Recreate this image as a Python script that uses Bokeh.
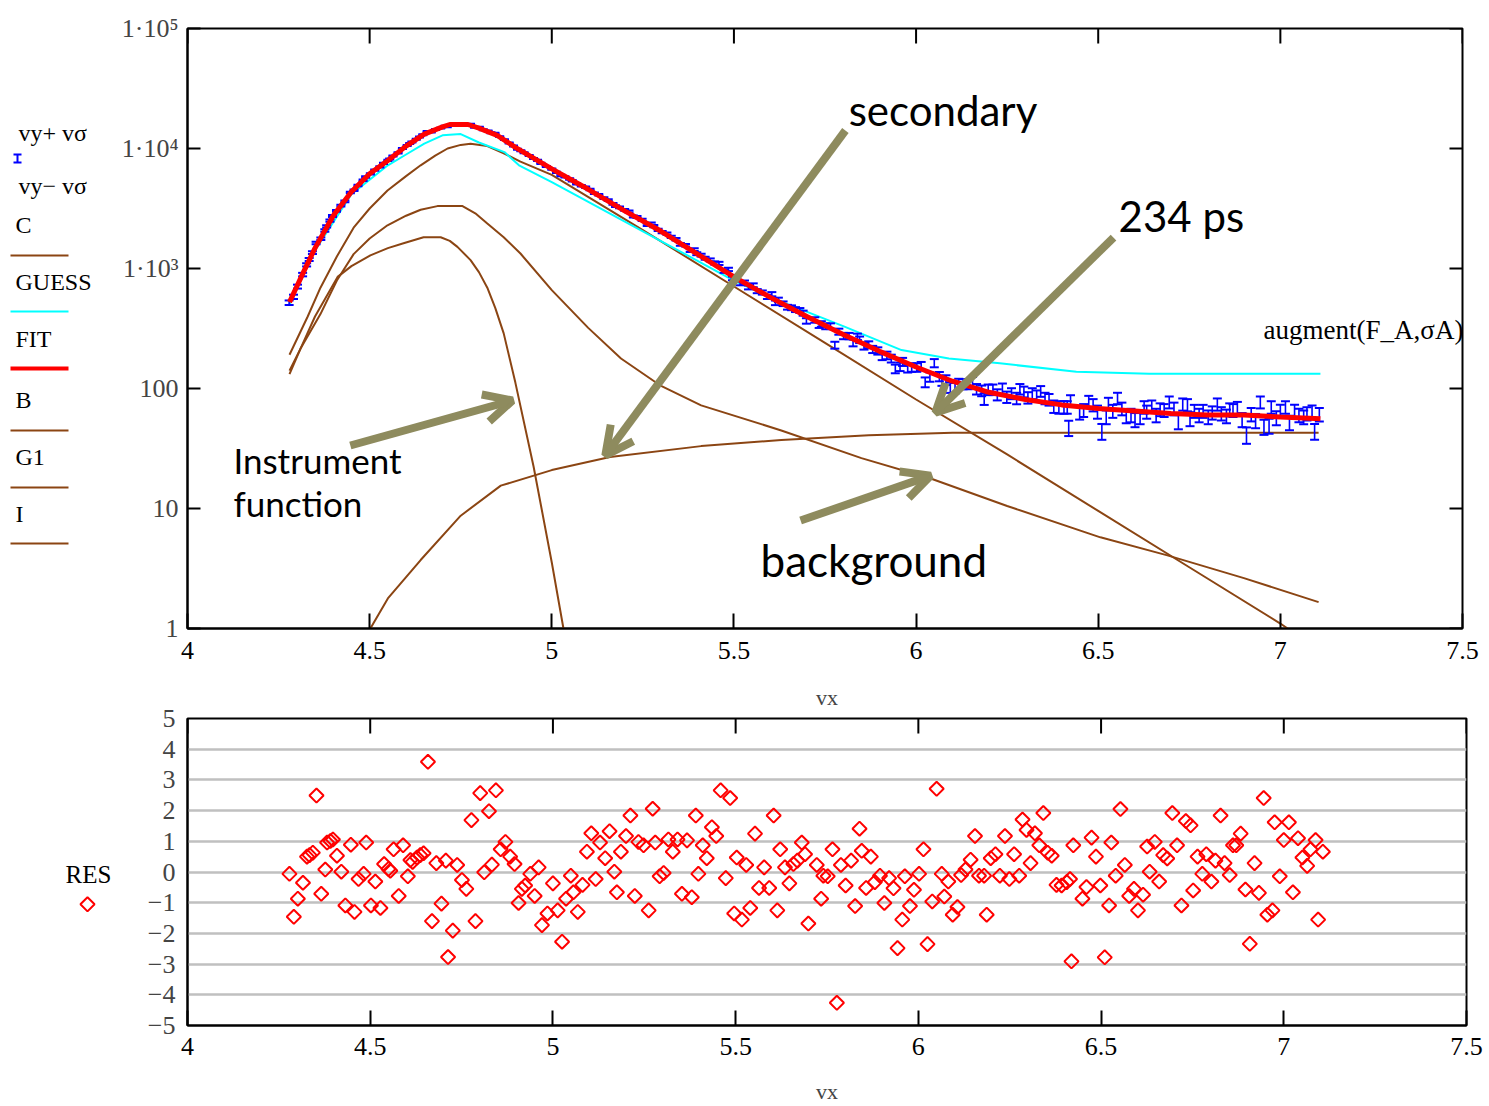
import numpy as np
from bokeh.plotting import figure
from bokeh.layouts import column, row
from bokeh.models import Range1d, FixedTicker, Label, Arrow, OpenHead, LinearAxis
from bokeh.core.properties import value
from bokeh.embed import file_html
from bokeh.resources import INLINE

SERIF = "Liberation Serif"
SANS = "Lato"
BROWN = "#8B4513"
OLIVE = "#8E8B5E"

# ---------------- data: measured channels (x, counts, residual) ----------------
x_ch = [
    4.279, 4.291, 4.302, 4.316, 4.327, 4.334, 4.343, 4.353,
    4.366, 4.377, 4.382, 4.391, 4.398, 4.409, 4.421, 4.432,
    4.447, 4.457, 4.468, 4.482, 4.489, 4.502, 4.514, 4.528,
    4.538, 4.550, 4.555, 4.564, 4.578, 4.590, 4.603, 4.610,
    4.616, 4.628, 4.637, 4.646, 4.658, 4.669, 4.681, 4.695,
    4.707, 4.713, 4.726, 4.738, 4.751, 4.763, 4.777, 4.788,
    4.801, 4.812, 4.825, 4.833, 4.844, 4.857, 4.870, 4.883,
    4.895, 4.906, 4.915, 4.924, 4.938, 4.950, 4.961, 4.970,
    4.985, 5.000, 5.013, 5.025, 5.036, 5.049, 5.056, 5.068,
    5.081, 5.093, 5.105, 5.117, 5.129, 5.143, 5.155, 5.168,
    5.175, 5.186, 5.200, 5.212, 5.224, 5.234, 5.248, 5.262,
    5.273, 5.280, 5.292, 5.303, 5.316, 5.328, 5.341, 5.353,
    5.367, 5.380, 5.391, 5.398, 5.410, 5.421, 5.435, 5.447,
    5.459, 5.473, 5.485, 5.496, 5.503, 5.517, 5.529, 5.540,
    5.553, 5.564, 5.578, 5.592, 5.604, 5.614, 5.622, 5.635,
    5.647, 5.658, 5.669, 5.681, 5.690, 5.699,
    5.722, 5.734, 5.740, 5.752, 5.765, 5.777, 5.788, 5.801,
    5.816, 5.827, 5.839, 5.845, 5.857, 5.870, 5.881, 5.895,
    5.907, 5.920, 5.932, 5.943, 5.956, 5.963, 5.977, 5.988,
    6.002, 6.014, 6.025, 6.038, 6.050, 6.064, 6.071, 6.082,
    6.094, 6.107, 6.117, 6.129, 6.143, 6.155, 6.166, 6.180,
    6.187, 6.198, 6.211, 6.223, 6.237, 6.249, 6.262, 6.276,
    6.285, 6.296, 6.307, 6.319, 6.331, 6.342, 6.354, 6.365,
    6.378, 6.392, 6.406, 6.415, 6.419, 6.424,
    6.449, 6.460, 6.474, 6.486, 6.498, 6.510, 6.522, 6.528,
    6.540, 6.553, 6.565, 6.577, 6.590, 6.601, 6.615, 6.626,
    6.633, 6.647, 6.659, 6.670, 6.681, 6.695, 6.708, 6.720,
    6.732, 6.745, 6.752, 6.764, 6.777, 6.788, 6.802, 6.813,
    6.827, 6.838, 6.852, 6.861, 6.870, 6.882, 6.895, 6.907,
    6.920, 6.932, 6.945, 6.955, 6.969, 6.975, 6.989, 7.000,
    7.014, 7.025, 7.039, 7.051, 7.064, 7.073, 7.087, 7.094,
    7.107,
]

vy = [
    519, 581, 707, 890, 1073, 1189, 1357, 1632,
    1773, 2074, 2248, 2505, 2745, 3021, 3343, 3632,
    4304, 4493, 4927, 5441, 5788, 6137, 6597, 7013,
    7504, 7952, 8170, 8659, 9193, 9995, 10603, 11006,
    11307, 11963, 12478, 13011, 13906, 13711, 14390, 14802,
    15357, 15179, 15609, 15878, 15816, 15780, 15988, 15008,
    15069, 14321, 14037, 13518, 13395, 12557, 11855, 11119,
    10498, 9876, 9562, 9226, 8744, 8247, 7956, 7505,
    7080, 6731, 6327, 5960, 5808, 5576, 5384, 5082,
    4891, 4744, 4561, 4241, 4116, 3856, 3719, 3452,
    3312, 3236, 3084, 2983, 2707, 2693, 2544, 2310,
    2368, 2253, 2102, 2013, 1951, 1835, 1750, 1589,
    1564, 1408, 1439, 1328, 1293, 1218, 1179, 1112,
    1103, 951, 983, 827, 855, 752, 766, 696,
    725, 648, 631, 581, 611, 518, 548, 509,
    476, 471, 455, 447, 425, 366,
    373, 338, 345, 330, 331, 230, 298, 274,
    274, 240, 270, 255, 226, 232, 212, 206,
    186, 189, 178, 146, 152, 167, 148, 150,
    150, 154, 113, 125, 163, 126, 116, 118,
    102, 101, 110, 109, 109, 114, 99, 96,
    82, 98, 98, 89, 100, 85, 91, 83,
    99, 94, 84, 91, 87, 95, 83, 81,
    71, 70, 70, 70, 47, 79,
    63, 66, 78, 73, 64, 44, 58, 75,
    65, 83, 68, 59, 60, 55, 58, 70,
    64, 71, 60, 67, 66, 77, 68, 53,
    74, 73, 56, 65, 60, 65, 58, 63,
    74, 62, 59, 67, 66, 69, 55, 41,
    61, 54, 77, 48, 49, 70, 57, 65,
    70, 52, 65, 60, 58, 62, 64, 44,
    61,
]

res = [
    -0.06, -1.46, -0.87, -0.35, 0.50, 0.55, 0.63, 2.49,
    -0.71, 0.08, 0.96, 1.01, 1.06, 0.53, 0.01, -1.09,
    0.89, -1.30, -0.23, -0.06, 0.96, -1.09, -0.31, -1.17,
    0.26, 0.10, 0.04, 0.74, -0.78, 0.87, -0.14, 0.39,
    0.33, 0.47, 0.55, 0.61, 3.59, -1.60, 0.29, -1.03,
    0.37, -2.77, -1.91, 0.23, -0.26, -0.55, 1.69, -1.60,
    2.57, -0.01, 1.98, 0.24, 2.66, 0.74, 0.98, 0.50,
    0.26, -1.01, -0.55, -0.44, -0.06, -0.78, 0.15, -1.73,
    -1.35, -0.37, -1.25, -2.27, -0.87, -0.12, -0.66, -1.30,
    -0.42, 0.66, 1.26, -0.23, 0.96, 0.45, 1.33, 0.01,
    -0.66, 0.66, 1.17, 1.84, -0.78, 0.98, 0.87, -1.25,
    2.06, 0.96, -0.14, -0.03, 1.06, 0.66, 1.06, -0.71,
    1.03, -0.82, 1.84, -0.06, 0.87, 0.45, 1.46, 1.17,
    2.66, -0.20, 2.41, -1.35, 0.47, -1.55, 0.23, -1.17,
    1.25, -0.52, 0.15, -0.52, 1.84, -1.25, 0.74, 0.15,
    -0.37, 0.26, 0.37, 0.96, 0.58, -1.68,
    0.23, -0.87, -0.12, -0.14, 0.74, -4.26, 0.23, -0.44,
    0.37, -1.11, 1.41, 0.69, -0.52, 0.50, -0.33, -0.12,
    -1.01, -0.20, -0.53, -2.48, -1.55, -0.14, -1.11, -0.58,
    -0.06, 0.74, -2.35, -0.96, 2.71, -0.06, -0.80, -0.31,
    -1.39, -1.14, -0.10, 0.08, 0.40, 1.17, -0.12, -0.12,
    -1.39, 0.45, 0.58, -0.12, 1.17, -0.23, 0.58, -0.12,
    1.71, 1.37, 0.29, 1.26, 0.87, 1.92, 0.63, 0.53,
    -0.42, -0.44, -0.33, -0.23, -2.91, 0.87,
    -0.87, -0.49, 1.12, 0.50, -0.44, -2.78, -1.09, 0.96,
    -0.12, 2.05, 0.23, -0.78, -0.55, -1.25, -0.74, 0.83,
    0.01, 0.98, -0.31, 0.55, 0.44, 1.92, 0.87, -1.09,
    1.66, 1.52, -0.60, 0.50, -0.06, 0.58, -0.31, 0.37,
    1.84, 0.29, -0.10, 0.87, 0.87, 1.25, -0.57, -2.34,
    0.29, -0.68, 2.41, -1.39, -1.25, 1.62, -0.14, 1.04,
    1.62, -0.66, 1.10, 0.47, 0.20, 0.74, 1.04, -1.55,
    0.66,
]

# ---------------- curves ----------------
fit_x = [4.28, 4.30, 4.32, 4.35, 4.40, 4.45, 4.50, 4.55, 4.60, 4.65,
         4.70, 4.72, 4.77, 4.80, 4.85, 4.90, 4.95, 5.00, 5.10, 5.20,
         5.30, 5.40, 5.50, 5.60, 5.70, 5.80, 5.90, 6.00, 6.10, 6.20,
         6.30, 6.40, 6.50, 6.60, 6.70, 6.80, 6.90, 7.00, 7.11]
fit_y = [525, 708, 955, 1479, 2754, 4365, 6166, 7943, 10470, 13183,
         15136, 15849, 15849, 14791, 12882, 10233, 8318, 6761, 4571, 3020,
         2042, 1318, 851, 575, 398, 282, 204, 151, 115, 93,
         81, 73, 68, 65, 62, 60, 60, 58, 56]

guess_x = [4.28, 4.35, 4.45, 4.55, 4.60, 4.65, 4.70, 4.75, 4.80, 4.87, 4.91,
           5.00, 5.25, 5.50, 5.60, 5.80, 5.96, 6.09, 6.23, 6.44, 6.64, 7.11]
guess_y = [501, 1413, 4169, 7244, 8913, 10965, 12882, 13183, 11220, 9333, 7244,
           5248, 2042, 794, 575, 331, 209, 178, 162, 138, 133, 133]

c_x = [4.28, 4.33, 4.365, 4.41, 4.456, 4.50, 4.549, 4.60, 4.64, 4.68, 4.714, 4.75, 4.777,
       4.823, 4.868, 4.914, 5.00, 5.25, 5.50, 5.75, 6.00, 6.25, 6.50, 6.75, 7.00, 7.02]
c_y = [191, 398, 692, 1259, 2188, 3162, 4467, 5888, 7244, 8710, 10000, 10715, 10965,
       10471, 9120, 7762, 6026, 2089, 708, 240, 81, 28.2, 9.55, 3.24, 1.10, 1.0]

b_x = [4.28, 4.31, 4.365, 4.41, 4.456, 4.50, 4.549, 4.60, 4.64, 4.686, 4.755, 4.79, 4.823, 4.868,
       4.914, 5.00, 5.10, 5.19, 5.30, 5.41, 5.63, 5.85, 6.04, 6.25, 6.506, 6.69, 6.90, 7.105]
b_y = [141, 214, 417, 794, 1318, 1778, 2291, 2754, 3090, 3311, 3311, 2884, 2371, 1820,
       1334, 660, 320, 178, 105, 72.4, 44.7, 26.3, 17.8, 10.5, 5.75, 4.07, 2.63, 1.66]

g1_x = [4.502, 4.55, 4.64, 4.75, 4.86, 5.00, 5.16, 5.41, 5.63, 5.87, 6.10, 6.50, 7.105]
g1_y = [1.0, 1.78, 3.72, 8.71, 15.5, 20.9, 26.9, 33.1, 37.2, 40.7, 42.7, 42.7, 42.7]

i_x = [4.28, 4.31, 4.35, 4.412, 4.45, 4.502, 4.55, 4.593, 4.648, 4.695, 4.72,
       4.741, 4.777, 4.80, 4.823, 4.845, 4.868, 4.90, 4.95, 5.00, 5.032]
i_y = [132, 214, 398, 851, 1047, 1288, 1479, 1622, 1820, 1820, 1698,
       1514, 1175, 933, 692, 468, 288, 112, 22.4, 3.55, 1.0]

x_ticks = [4, 4.5, 5, 5.5, 6, 6.5, 7, 7.5]
x_tick_labels = ["4", "4.5", "5", "5.5", "6", "6.5", "7", "7.5"]
y_ticks_top = [1, 10, 100, 1000, 10000, 100000]
y_tick_labels_top = ["1", "10", "100", "1·10³", "1·10⁴", "1·10⁵"]
y_ticks_res = [-5, -4, -3, -2, -1, 0, 1, 2, 3, 4, 5]
y_tick_labels_res = ["−5", "−4", "−3", "−2", "−1", "0", "1", "2", "3", "4", "5"]

# legend entries (left column)
leg_names = ["vy+ vσ", "vy− vσ", "C", "GUESS", "FIT", "B", "G1", "I"]
leg_line_colors = [BROWN, "#00FFFF", "#FF0000", BROWN, BROWN, BROWN]
leg_line_widths = [2, 2, 4, 2, 2, 2]

# error bars vy +/- v sigma
vy_arr = np.array(vy, dtype=float)
vsig = np.sqrt(vy_arr)
lo = vy_arr - vsig
hi = vy_arr + vsig

xo = {t: s for t, s in zip(x_ticks, x_tick_labels)}
TICK_FONT = "26px"

# page geometry (pixels)
FW1, FH1 = 1275, 600
FW2, FH2 = 1279, 309
TOP1, BOT1 = 28, 628
TOP2, BOT2 = 718, 1027
H1 = 670
H2 = 436
LW1, LW2 = 105, 140


def style_x(ax, standoff, label=None):
    ax.ticker = FixedTicker(ticks=x_ticks, minor_ticks=[])
    ax.major_label_overrides = xo
    ax.major_tick_in = 15
    ax.major_tick_out = 0
    ax.major_tick_line_width = 2
    ax.major_tick_line_color = "black"
    ax.minor_tick_line_color = None
    ax.axis_line_width = 2
    ax.axis_line_color = "black"
    ax.major_label_text_font = SERIF
    ax.major_label_text_color = "black"
    ax.major_label_text_font_size = TICK_FONT
    ax.major_label_standoff = standoff
    if label:
        ax.axis_label = label
        ax.axis_label_text_font = SERIF
        ax.axis_label_text_font_style = "normal"
        ax.axis_label_text_font_size = "22px"
        ax.axis_label_standoff = 21


def blank_fig(w, h, y0, y1):
    f = figure(width=w, height=h, x_range=Range1d(0, w), y_range=Range1d(y1, y0),
               x_axis_location=None, y_axis_location=None, min_border=0,
               output_backend="svg", toolbar_location=None)
    f.outline_line_color = None
    f.grid.visible = False
    return f


# ---------------- top panel ----------------
p = figure(width=1489 - LW1, height=H1, x_range=Range1d(4, 7.5), y_range=Range1d(1, 1e5),
           y_axis_type="log", output_backend="svg", toolbar_location=None,
           min_border_left=187 - LW1, min_border_right=27, min_border_top=TOP1,
           min_border_bottom=H1 - BOT1)
p.outline_line_color = "black"
p.outline_line_width = 2
p.xgrid.visible = False
p.ygrid.visible = False

style_x(p.xaxis[0], 13)

ya = p.yaxis[0]
ya.ticker = FixedTicker(ticks=y_ticks_top, minor_ticks=[])
ya.major_label_overrides = {t: s for t, s in zip(y_ticks_top, y_tick_labels_top)}
ya.major_tick_in = 13
ya.major_tick_out = 0
ya.major_tick_line_width = 2
ya.minor_tick_line_color = None
ya.axis_line_width = 2
ya.major_label_text_font = SERIF
ya.major_label_text_font_size = TICK_FONT
ya.major_label_standoff = 9

# inner tick marks on the top and right edges of the frame
ydec = 5.0 * 15 / FH1
p.segment(x0=x_ticks, y0=[1e5] * len(x_ticks), x1=x_ticks, y1=[1e5 / 10 ** ydec] * len(x_ticks),
          line_color="black", line_width=2)
xlen = 3.5 * 13 / FW1
p.segment(x0=[7.5] * len(y_ticks_top), y0=y_ticks_top, x1=[7.5 - xlen] * len(y_ticks_top),
          y1=y_ticks_top, line_color="black", line_width=2)

# component curves
p.line(b_x, b_y, line_color=BROWN, line_width=2)
p.line(g1_x, g1_y, line_color=BROWN, line_width=2)
p.line(i_x, i_y, line_color=BROWN, line_width=2)
p.line(c_x, c_y, line_color=BROWN, line_width=2)
p.line(guess_x, guess_y, line_color="#00FFFF", line_width=2)
# data with error bars
p.segment(x0=x_ch, y0=lo, x1=x_ch, y1=hi, line_color="#0000FF", line_width=1.6)
p.scatter(x_ch, lo, marker="dash", size=9, line_color="#0000FF", line_width=2)
p.scatter(x_ch, hi, marker="dash", size=9, line_color="#0000FF", line_width=2)
p.line(fit_x, fit_y, line_color="#FF0000", line_width=5)


def add_label(fig, x, y, text, font=SERIF, size="22px", color="black", align="left",
              baseline="alphabetic"):
    fig.add_layout(Label(x=x, y=y, text=text, text_font=font, text_font_size=size,
                         text_color=color, text_align=align, text_baseline=baseline))


add_label(p, 6.954, 310, "augment(F_A,σA)", size="27px")

# annotations
for (xs, ys, xe, ye) in [(5.806, 14125, 5.147, 27.7), (6.542, 1811, 6.053, 63.0),
                         (4.447, 33.5, 4.892, 79.4), (5.683, 7.94, 6.040, 18.8)]:
    p.add_layout(Arrow(x_start=xs, y_start=ys, x_end=xe, y_end=ye, line_color=OLIVE,
                       line_width=8, end=OpenHead(size=28, line_color=OLIVE, line_width=8)))

add_label(p, 5.815, 20750, "secondary", font=SANS, size="42px")
add_label(p, 6.556, 2713, "234 ps", font=SANS, size="42px")
add_label(p, 4.126, 25.2, "Instrument", font=SANS, size="35px")
add_label(p, 4.126, 11.2, "function", font=SANS, size="35px")
add_label(p, 5.573, 3.75, "background", font=SANS, size="44px")

# ---------------- top legend column (page pixel coordinates) ----------------
leg1 = blank_fig(LW1, H1, TOP1, BOT1)
leg1.text(x=[18, 18, 15, 15, 15, 15, 15, 15], y=[132, 185, 224, 281, 338, 399, 456, 513],
          text=leg_names, text_font=value(SERIF), text_font_size="24px",
          text_baseline="middle", text_color="black")
leg1.segment(x0=[10] * 6, y0=[255, 311, 368, 430, 487, 543], x1=[68] * 6,
             y1=[255, 311, 368, 430, 487, 543], line_color=leg_line_colors,
             line_width=leg_line_widths)
leg1.segment(x0=[17, 13, 13], y0=[154, 154, 162], x1=[17, 21, 21], y1=[162, 154, 162],
             line_color="#0000FF", line_width=2)

# ---------------- residual panel ----------------
p2 = figure(width=1489 - LW2, height=H2, x_range=Range1d(4, 7.5), y_range=Range1d(-5, 5),
            output_backend="svg", toolbar_location=None,
            min_border_left=187 - LW2, min_border_right=23, min_border_top=TOP2 - H1,
            min_border_bottom=H2 - (TOP2 - H1) - FH2)
p2.outline_line_color = "black"
p2.outline_line_width = 2
p2.xgrid.visible = False
p2.ygrid.ticker = FixedTicker(ticks=[-4, -3, -2, -1, 0, 1, 2, 3, 4], minor_ticks=[])
p2.ygrid.grid_line_color = "#C0C0C0"
p2.ygrid.grid_line_width = 2.5

style_x(p2.xaxis[0], 12, label="vx")

# "vx" caption of the upper panel, carried by a tick-less axis above the lower panel
cap = LinearAxis(ticker=FixedTicker(ticks=[]), axis_label="vx")
cap.axis_line_color = None
cap.major_tick_line_color = None
cap.minor_tick_line_color = None
cap.major_label_standoff = 0
cap.axis_label_standoff = 9
cap.axis_label_text_font = SERIF
cap.axis_label_text_font_style = "normal"
cap.axis_label_text_font_size = "22px"
p2.add_layout(cap, "above")

y2 = p2.yaxis[0]
y2.ticker = FixedTicker(ticks=y_ticks_res, minor_ticks=[])
y2.major_label_overrides = {t: s for t, s in zip(y_ticks_res, y_tick_labels_res)}
y2.major_tick_in = 0
y2.major_tick_out = 0
y2.minor_tick_line_color = None
y2.axis_line_width = 2
y2.major_label_text_font = SERIF
y2.major_label_text_font_size = TICK_FONT
y2.major_label_standoff = 12

ylen2 = 10.0 * 15 / FH2
p2.segment(x0=x_ticks, y0=[5] * len(x_ticks), x1=x_ticks, y1=[5 - ylen2] * len(x_ticks),
           line_color="black", line_width=2)

p2.scatter(x_ch, res, marker="square", angle=np.pi / 4, size=10, fill_color=None,
           line_color="#FF0000", line_width=2)

leg2 = blank_fig(LW2, H2, TOP2, BOT2)
leg2.text(x=[88], y=[875], text=["RES"], text_font=value(SERIF),
          text_font_size="25px", text_align="center", text_baseline="middle",
          text_color="black")
leg2.scatter(x=[87], y=[905], marker="square", angle=np.pi / 4, size=10,
             fill_color=None, line_color="#FF0000", line_width=2)

layout = column(row(leg1, p, spacing=0), row(leg2, p2, spacing=0), spacing=0)
open("out.html", "w").write(file_html(layout, INLINE, title="fit"))
